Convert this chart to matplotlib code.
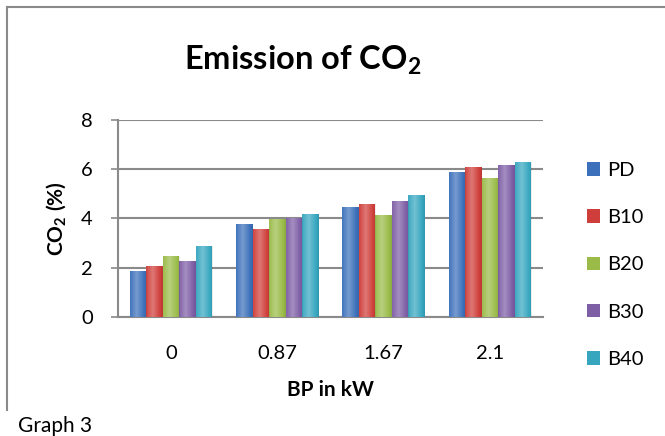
import numpy as np
import matplotlib
matplotlib.use('Agg')
import matplotlib.pyplot as plt
from matplotlib.patches import Patch
from matplotlib.lines import Line2D

plt.rcParams['font.family'] = ['Lato', 'DejaVu Sans']
plt.rcParams['mathtext.fontset'] = 'custom'
plt.rcParams['mathtext.rm'] = 'Lato'
plt.rcParams['mathtext.bf'] = 'Lato:bold'

# data
loads = ['0', '0.87', '1.67', '2.1']
series = ['PD', 'B10', 'B20', 'B30', 'B40']
pd_vals = [1.86, 3.76, 4.46, 5.86]
b10_vals = [2.06, 3.56, 4.59, 6.07]
b20_vals = [2.46, 3.96, 4.15, 5.64]
b30_vals = [2.27, 4.03, 4.70, 6.15]
b40_vals = [2.87, 4.16, 4.93, 6.30]
values = [pd_vals, b10_vals, b20_vals, b30_vals, b40_vals]
colors = ['#3C70BA', '#CF3E3A', '#9ABB48', '#7E5EA5', '#36A6BF']

W, H = 665, 436
fig = plt.figure(figsize=(W / 100, H / 100), dpi=100)

# outer chart frame (left and top edges visible)
fig.add_artist(Line2D([7 / W, 7 / W], [1 - 7 / H, 1 - 410 / H], color='#8a8a8a', lw=1.5))
fig.add_artist(Line2D([7 / W, 1.0], [1 - 7 / H, 1 - 7 / H], color='#8a8a8a', lw=1.5))

ax = fig.add_axes([118 / W, 1 - 317 / H, 425 / W, 197.3 / H])

x = np.arange(len(loads))
bw = 0.155
grad = np.linspace(0, 1, 64)
shade = (1 - np.abs(grad - 0.4) * 2.2).clip(-0.6, 1)[None, :]
for i, (name, vals, c) in enumerate(zip(series, values, colors)):
    bars = ax.bar(x + (i - 2) * bw, vals, bw, color=c, label=name, zorder=3)
    for b in bars:
        # soft cylinder-like shading over each bar
        img = np.zeros((1, 64, 4))
        img[..., :3] = np.where(shade[..., None] > 0, 1.0, 0.0)
        img[..., 3] = np.abs(shade) * 0.3
        im = ax.imshow(img, extent=[b.get_x(), b.get_x() + b.get_width(), 0, b.get_height()],
                       aspect='auto', zorder=4, interpolation='bilinear')
        im.set_clip_path(b)

ax.set_xlim(-0.5, len(loads) - 0.5)
ax.set_ylim(0, 8)
ax.set_yticks([0, 2, 4, 6, 8])
ax.set_xticks(x)
ax.set_xticklabels(loads)
ax.yaxis.grid(True, color='#8a8a8a', lw=1.5, zorder=0)
ax.set_axisbelow(True)
for s in ['top', 'right']:
    ax.spines[s].set_visible(False)
for s in ['left', 'bottom']:
    ax.spines[s].set_color('#8a8a8a')
    ax.spines[s].set_linewidth(1.5)
ax.tick_params(axis='y', length=5, width=1.2, color='#8a8a8a', pad=13, labelsize=14.5)
ax.tick_params(axis='x', length=0, pad=20, labelsize=14.5)

ax.set_xlabel('BP in kW', fontsize=15, fontweight='bold', labelpad=13)
ax.set_ylabel(r'CO$_\mathbf{2}$ (%)', fontsize=15, fontweight='bold')
ax.yaxis.set_label_coords(-0.116, 0.5)

fig.text(303 / W, 1 - 60 / H, r'Emission of CO$_\mathbf{2}$', fontsize=23.5,
         fontweight='bold', ha='center', va='center')

handles = [Patch(facecolor=c, edgecolor='none') for c in colors]
fig.legend(handles, series, loc='upper left', bbox_to_anchor=(579 / W, 1 - 154 / H),
           frameon=False, fontsize=14.5, handlelength=0.65, handleheight=0.65,
           handletextpad=0.35, labelspacing=1.5, borderaxespad=0)

fig.text(18 / W, 1 - 426 / H, 'Graph 3', fontsize=15, va='center', ha='left')

fig.savefig('out.png', dpi=100)
